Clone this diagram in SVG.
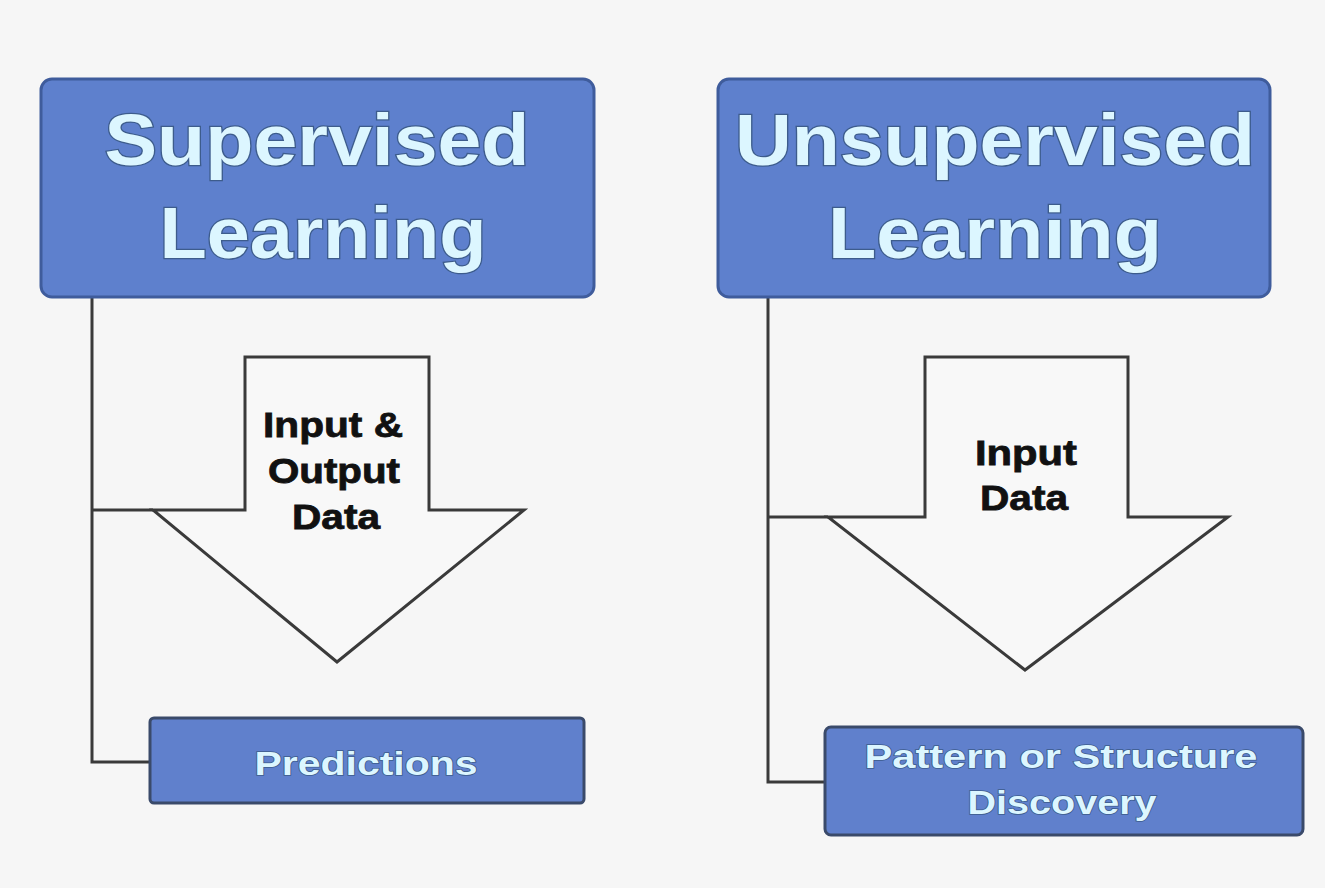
<svg xmlns="http://www.w3.org/2000/svg" width="1325" height="888" viewBox="0 0 1325 888">
<style>
.bg{fill:#f6f6f6}
.hdr{fill:#5e80cd;stroke:#3f5c9c;stroke-width:3}
.sub{fill:#6080cc;stroke:#3a4a6a;stroke-width:3}
.conn{fill:none;stroke:#3a3a3a;stroke-width:3}
.arrow{fill:#f8f8f8;stroke:#3a3a3a;stroke-width:3;stroke-linejoin:miter}
.t1{font-family:"Liberation Sans",Arial,sans-serif;font-weight:bold;font-size:72px;fill:#dcf6ff;stroke:#3d5c8c;stroke-width:2.5;paint-order:stroke;text-anchor:middle}
.t2{font-family:"Liberation Sans",Arial,sans-serif;font-weight:bold;font-size:33px;fill:#dcf6ff;stroke:#3d5c8c;stroke-width:1.5;paint-order:stroke;text-anchor:middle}
.t3{font-family:"Liberation Sans",Arial,sans-serif;font-weight:bold;font-size:35px;fill:#111;stroke:#111;stroke-width:0.8;text-anchor:middle}
</style>
<rect class="bg" x="0" y="0" width="1325" height="888"/>
<g id="connectors">
<polyline class="conn" points="92,298 92,762 150,762"/>
<line class="conn" x1="92" y1="510" x2="153" y2="510"/>
<polyline class="conn" points="768,298 768,782 825,782"/>
<line class="conn" x1="768" y1="517" x2="828" y2="517"/>
</g>
<g id="supervised">
<rect class="hdr" x="41" y="79" width="553" height="218" rx="11"/>
<text class="t1" x="317" y="165" textLength="425" lengthAdjust="spacingAndGlyphs">Supervised</text>
<text class="t1" x="323" y="258" textLength="327" lengthAdjust="spacingAndGlyphs">Learning</text>
</g>
<g id="arrow-left">
<polygon class="arrow" points="245,357 429,357 429,510 524,510 337,662 153,510 245,510"/>
<text class="t3" x="333" y="437" textLength="140" lengthAdjust="spacingAndGlyphs">Input &amp;</text>
<text class="t3" x="334" y="483" textLength="132" lengthAdjust="spacingAndGlyphs">Output</text>
<text class="t3" x="336" y="529" textLength="88" lengthAdjust="spacingAndGlyphs">Data</text>
</g>
<g id="predictions">
<rect class="sub" x="150" y="718" width="434" height="85" rx="4"/>
<text class="t2" x="366" y="775" textLength="223" lengthAdjust="spacingAndGlyphs">Predictions</text>
</g>
<g id="unsupervised">
<rect class="hdr" x="718" y="79" width="552" height="218" rx="11"/>
<text class="t1" x="995" y="165" textLength="520" lengthAdjust="spacingAndGlyphs">Unsupervised</text>
<text class="t1" x="995" y="258" textLength="334" lengthAdjust="spacingAndGlyphs">Learning</text>
</g>
<g id="arrow-right">
<polygon class="arrow" points="925,357 1128,357 1128,517 1228,517 1025,670 828,517 925,517"/>
<text class="t3" x="1026" y="465" textLength="102" lengthAdjust="spacingAndGlyphs">Input</text>
<text class="t3" x="1024" y="510" textLength="88" lengthAdjust="spacingAndGlyphs">Data</text>
</g>
<g id="discovery">
<rect class="sub" x="825" y="727" width="478" height="108" rx="6"/>
<text class="t2" x="1061" y="768" textLength="393" lengthAdjust="spacingAndGlyphs">Pattern or Structure</text>
<text class="t2" x="1062" y="814" textLength="189" lengthAdjust="spacingAndGlyphs">Discovery</text>
</g>
</svg>
